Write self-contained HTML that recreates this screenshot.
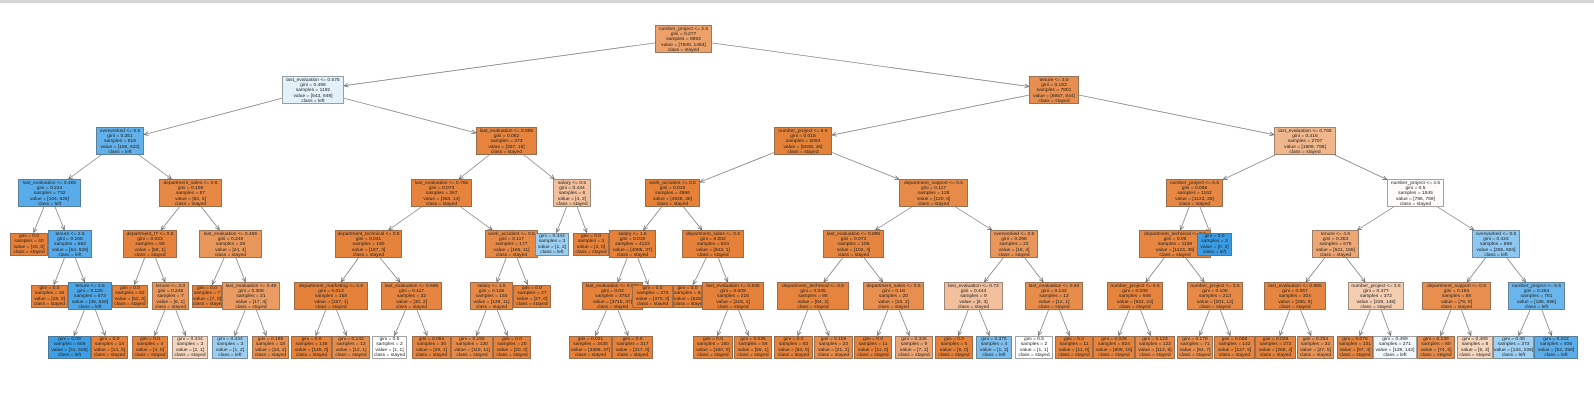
<!DOCTYPE html>
<html><head><meta charset="utf-8">
<style>
html,body{margin:0;padding:0;background:#fff;}
body{width:1594px;height:403px;position:relative;overflow:hidden;font-family:"Liberation Sans",sans-serif;}
#top{position:absolute;left:0;top:0;width:1594px;height:3px;background:#d6d6d6;}
.n{position:absolute;box-sizing:border-box;border:1px solid rgba(90,90,90,0.55);font-size:4.9px;line-height:5.4px;text-align:center;color:#222;white-space:nowrap;overflow:hidden;padding-top:0.5px;}
svg{position:absolute;left:0;top:0;}
</style></head><body>
<div id="top"></div>
<svg id="s" width="1594" height="403"></svg>
<div id="c"></div>
<script>
var O="#e58139";
var N=[
["r",null,655,712,0,"#eca06a","number_project <= 2.5|gini = 0.277|samples = 8993|value = [7500, 1493]|class = stayed"],
["A","r",282,344,1,"#e3f1fb","last_evaluation <= 0.575|gini = 0.496|samples = 1192|value = [543, 649]|class = left"],
["B","r",1029,1079,1,"#e88f4f","tenure <= 3.5|gini = 0.193|samples = 7801|value = [6957, 844]|class = stayed"],
["A1","A",96,144,2,"#62b1ea","overworked <= 0.5|gini = 0.351|samples = 819|value = [186, 633]|class = left"],
["A2","A",476,537,2,"#e6843e","last_evaluation <= 0.995|gini = 0.082|samples = 373|value = [357, 16]|class = stayed"],
["B1","B",774,832,2,"#e5823a","number_project <= 5.5|gini = 0.018|samples = 5094|value = [5048, 46]|class = stayed"],
["B2","B",1274,1336,2,"#f0b68c","last_evaluation <= 0.765|gini = 0.416|samples = 2707|value = [1909, 798]|class = stayed"],
["A1a","A1",18,81,3,"#57ace9","last_evaluation <= 0.465|gini = 0.244|samples = 732|value = [104, 628]|class = left"],
["A1b","A1",159,222,3,"#e78945","department_sales <= 0.5|gini = 0.108|samples = 87|value = [82, 5]|class = stayed"],
["A2a","A2",411,472,3,"#e6843d","last_evaluation <= 0.755|gini = 0.073|samples = 367|value = [353, 14]|class = stayed"],
["A2b","A2",553,591,3,"#f2c09c","salary <= 0.5|gini = 0.444|samples = 6|value = [4, 2]|class = stayed"],
["B1a","B1",645,700,3,O,"work_accident <= 0.5|gini = 0.015|samples = 4966|value = [4928, 38]|class = stayed"],
["B1b","B1",899,968,3,"#e78b48","department_support <= 0.5|gini = 0.117|samples = 128|value = [120, 8]|class = stayed"],
["B2a","B2",1166,1223,3,"#e68743","number_project <= 6.5|gini = 0.065|samples = 1162|value = [1123, 39]|class = stayed"],
["B2b","B2",1387,1444,3,"#fefcfa","number_project <= 4.5|gini = 0.5|samples = 1545|value = [786, 759]|class = stayed"],
["l1","A1a",10,48,4,O,"gini = 0.0|samples = 40|value = [40, 0]|class = stayed"],
["A1aR","A1a",48,92,4,"#55abe9","tenure <= 2.5|gini = 0.168|samples = 692|value = [64, 628]|class = left"],
["A1bL","A1b",123,177,4,"#e5833c","department_IT <= 0.5|gini = 0.033|samples = 59|value = [58, 1]|class = stayed"],
["A1bR","A1b",199,262,4,"#e9965a","last_evaluation <= 0.465|gini = 0.245|samples = 28|value = [24, 4]|class = stayed"],
["A2aL","A2a",335,402,4,"#e5833c","department_technical <= 0.5|gini = 0.031|samples = 190|value = [187, 3]|class = stayed"],
["A2aR","A2a",485,538,4,"#e78946","work_accident <= 0.5|gini = 0.117|samples = 177|value = [166, 11]|class = stayed"],
["l2","A2b",535,569,4,"#9ccef2","gini = 0.444|samples = 3|value = [1, 2]|class = left"],
["l3","A2b",573,609,4,O,"gini = 0.0|samples = 3|value = [3, 0]|class = stayed"],
["B1aL","B1a",609,656,4,O,"salary <= 1.5|gini = 0.018|samples = 4122|value = [4085, 37]|class = stayed"],
["B1aR","B1a",682,744,4,O,"department_sales <= 0.5|gini = 0.002|samples = 844|value = [843, 1]|class = stayed"],
["B1bL","B1b",823,884,4,"#e68540","last_evaluation <= 0.895|gini = 0.073|samples = 106|value = [102, 4]|class = stayed"],
["B1bR","B1b",990,1038,4,"#e9965a","overworked <= 0.5|gini = 0.298|samples = 22|value = [18, 4]|class = stayed"],
["B2aL","B2a",1139,1211,4,"#e68641","department_technical <= 0.5|gini = 0.06|samples = 1159|value = [1123, 36]|class = stayed"],
["l4","B2a",1197,1232,4,"#399de5","gini = 0.0|samples = 3|value = [0, 3]|class = left"],
["B2bL","B2b",1312,1359,4,"#eda774","tenure <= 4.5|gini = 0.353|samples = 676|value = [521, 155]|class = stayed"],
["B2bR","B2b",1472,1520,4,"#8ec7f0","overworked <= 0.5|gini = 0.424|samples = 869|value = [265, 604]|class = left"],
["l5","A1aR",31,68,5,O,"gini = 0.0|samples = 19|value = [19, 0]|class = stayed"],
["A1aRR","A1aR",68,112,5,"#4ca6e7","tenure <= 3.5|gini = 0.125|samples = 673|value = [45, 628]|class = left"],
["l6","A1bL",112,148,5,O,"gini = 0.0|samples = 52|value = [52, 0]|class = stayed"],
["A1bLR","A1bL",152,189,5,"#e9965a","tenure <= 3.0|gini = 0.245|samples = 7|value = [6, 1]|class = stayed"],
["l7","A1bR",192,222,5,O,"gini = 0.0|samples = 7|value = [7, 0]|class = stayed"],
["A1bRR","A1bR",222,280,5,"#ea9b62","last_evaluation <= 0.48|gini = 0.308|samples = 21|value = [17, 4]|class = stayed"],
["A2aLL","A2aL",294,368,5,"#e5823a","department_marketing <= 0.5|gini = 0.013|samples = 158|value = [157, 1]|class = stayed"],
["A2aLR","A2aL",381,442,5,"#e68540","last_evaluation <= 0.595|gini = 0.117|samples = 32|value = [30, 2]|class = stayed"],
["A2aRL","A2aR",470,513,5,"#e78945","salary <= 1.5|gini = 0.136|samples = 150|value = [139, 11]|class = stayed"],
["l8","A2aR",513,551,5,O,"gini = 0.0|samples = 27|value = [27, 0]|class = stayed"],
["B1aLL","B1aL",582,643,5,O,"last_evaluation <= 0.985|gini = 0.02|samples = 3752|value = [3715, 37]|class = stayed"],
["l9","B1aL",632,673,5,O,"gini = 0.0|samples = 370|value = [370, 0]|class = stayed"],
["l10","B1aR",673,702,5,O,"gini = 0.0|samples = 628|value = [628, 0]|class = stayed"],
["B1aRR","B1aR",702,764,5,O,"last_evaluation <= 0.845|gini = 0.009|samples = 216|value = [215, 1]|class = stayed"],
["B1bLL","B1bL",777,849,5,"#e6843d","department_technical <= 0.5|gini = 0.045|samples = 86|value = [84, 2]|class = stayed"],
["B1bLR","B1bL",863,924,5,"#e88f4f","department_sales <= 0.5|gini = 0.18|samples = 20|value = [18, 2]|class = stayed"],
["B1bRL","B1bR",944,1003,5,"#f2c09c","last_evaluation <= 0.73|gini = 0.444|samples = 9|value = [6, 3]|class = stayed"],
["B1bRR","B1bR",1025,1083,5,"#e78c4b","last_evaluation <= 0.64|gini = 0.142|samples = 13|value = [12, 1]|class = stayed"],
["B2aLL","B2aL",1107,1163,5,"#e6843e","number_project <= 5.5|gini = 0.049|samples = 946|value = [922, 24]|class = stayed"],
["B2aLR","B2aL",1187,1243,5,"#e78946","number_project <= 3.5|gini = 0.106|samples = 213|value = [201, 12]|class = stayed"],
["B2bLL","B2bL",1264,1326,5,"#e6853f","last_evaluation <= 0.965|gini = 0.057|samples = 304|value = [295, 9]|class = stayed"],
["B2bLR","B2bL",1348,1404,5,"#f5cdb0","number_project <= 3.5|gini = 0.477|samples = 372|value = [226, 146]|class = stayed"],
["B2bRL","B2bR",1422,1491,5,"#e88f4f","department_support <= 0.5|gini = 0.184|samples = 88|value = [79, 9]|class = stayed"],
["B2bRR","B2bR",1508,1565,5,"#6ab5eb","number_project <= 5.5|gini = 0.363|samples = 781|value = [186, 595]|class = left"],
["x","A1aRR",48,91,6,"#3c9ee5","gini = 0.09|samples = 659|value = [31, 628]|class = left"],
["x","A1aRR",91,128,6,O,"gini = 0.0|samples = 14|value = [14, 0]|class = stayed"],
["x","A1bLR",132,168,6,O,"gini = 0.0|samples = 4|value = [4, 0]|class = stayed"],
["x","A1bLR",172,208,6,"#f6d5bd","gini = 0.444|samples = 3|value = [2, 1]|class = stayed"],
["x","A1bRR",212,248,6,"#9ccef2","gini = 0.444|samples = 3|value = [1, 2]|class = left"],
["x","A1bRR",252,289,6,"#e88e4e","gini = 0.198|samples = 18|value = [16, 2]|class = stayed"],
["x","A2aLL",291,332,6,O,"gini = 0.0|samples = 145|value = [145, 0]|class = stayed"],
["x","A2aLL",332,370,6,"#e78c4a","gini = 0.142|samples = 13|value = [12, 1]|class = stayed"],
["x","A2aLR",372,407,6,"#ffffff","gini = 0.5|samples = 2|value = [1, 1]|class = stayed"],
["x","A2aLR",412,451,6,"#e6843d","gini = 0.064|samples = 30|value = [29, 1]|class = stayed"],
["x","A2aRL",451,493,6,"#e78a47","gini = 0.155|samples = 130|value = [119, 11]|class = stayed"],
["x","A2aRL",493,531,6,O,"gini = 0.0|samples = 20|value = [20, 0]|class = stayed"],
["x","B1aLL",569,612,6,O,"gini = 0.021|samples = 3435|value = [3398, 37]|class = stayed"],
["x","B1aLL",612,653,6,O,"gini = 0.0|samples = 317|value = [317, 0]|class = stayed"],
["x","B1aRR",693,733,6,O,"gini = 0.0|samples = 160|value = [160, 0]|class = stayed"],
["x","B1aRR",734,772,6,"#e6843d","gini = 0.035|samples = 56|value = [55, 1]|class = stayed"],
["x","B1bLL",774,813,6,O,"gini = 0.0|samples = 63|value = [63, 0]|class = stayed"],
["x","B1bLL",814,853,6,"#e78c4a","gini = 0.159|samples = 23|value = [21, 2]|class = stayed"],
["x","B1bLR",854,892,6,O,"gini = 0.0|samples = 11|value = [11, 0]|class = stayed"],
["x","B1bLR",895,933,6,"#eca572","gini = 0.346|samples = 9|value = [7, 2]|class = stayed"],
["x","B1bRL",935,973,6,O,"gini = 0.0|samples = 5|value = [5, 0]|class = stayed"],
["x","B1bRL",976,1012,6,"#7bbeee","gini = 0.375|samples = 4|value = [1, 3]|class = left"],
["x","B1bRR",1015,1053,6,"#ffffff","gini = 0.5|samples = 2|value = [1, 1]|class = stayed"],
["x","B1bRR",1055,1093,6,O,"gini = 0.0|samples = 11|value = [11, 0]|class = stayed"],
["x","B2aLL",1093,1135,6,"#e6843d","gini = 0.038|samples = 824|value = [808, 16]|class = stayed"],
["x","B2aLL",1135,1175,6,"#e78a47","gini = 0.123|samples = 122|value = [114, 8]|class = stayed"],
["x","B2aLR",1177,1213,6,"#e88e4d","gini = 0.178|samples = 71|value = [64, 7]|class = stayed"],
["x","B2aLR",1214,1255,6,"#e6853f","gini = 0.068|samples = 142|value = [137, 5]|class = stayed"],
["x","B2bLL",1255,1296,6,"#e5833c","gini = 0.029|samples = 272|value = [268, 4]|class = stayed"],
["x","B2bLL",1297,1334,6,"#e99457","gini = 0.264|samples = 32|value = [27, 5]|class = stayed"],
["x","B2bLR",1337,1373,6,"#e6853f","gini = 0.076|samples = 101|value = [97, 4]|class = stayed"],
["x","B2bLR",1373,1417,6,"#f0f7fd","gini = 0.499|samples = 271|value = [129, 142]|class = left"],
["x","B2bRL",1417,1455,6,"#e78c4a","gini = 0.139|samples = 80|value = [74, 6]|class = stayed"],
["x","B2bRL",1457,1493,6,"#f6d5bd","gini = 0.469|samples = 8|value = [5, 3]|class = stayed"],
["x","B2bRR",1493,1534,6,"#a0d0f2","gini = 0.46|samples = 373|value = [134, 239]|class = left"],
["x","B2bRR",1534,1578,6,"#5aade9","gini = 0.222|samples = 408|value = [52, 356]|class = left"]
];
var LT=[25,76,127,179,230,282,333];
var box={},html="",svg='<defs><marker id="a" markerWidth="5" markerHeight="5" refX="4.5" refY="2.5" orient="auto" markerUnits="userSpaceOnUse"><path d="M0,0.5 L4.5,2.5 L0,4.5" fill="none" stroke="#666" stroke-width="0.7"/></marker></defs>';
N.forEach(function(n){
 var lines=n[6].split("|"),leaf=lines.length==4;
 var h=leaf?23:28,t=LT[n[4]]+(leaf?2.5:0);
 var b={x1:n[2],x2:n[3],y1:t,y2:t+h};
 if(n[0]!="x")box[n[0]]=b;
 n.b=b;
 html+='<div class="n" style="left:'+n[2]+'px;top:'+t+'px;width:'+(n[3]-n[2])+'px;height:'+h+'px;background:'+n[5]+'">'+lines.join("<br>").replace(/</g,function(m){return m;})+'</div>';
});
N.forEach(function(n){
 if(!n[1])return;
 var p=box[n[1]],c=n.b;
 var pcx=(p.x1+p.x2)/2,pcy=(p.y1+p.y2)/2,ccx=(c.x1+c.x2)/2,ccy=(c.y1+c.y2)/2;
 var dx=ccx-pcx,dy=ccy-pcy;
 function clip(b,sx,sy,ddx,ddy){var hw=(b.x2-b.x1)/2,hh=(b.y2-b.y1)/2;var t=Math.min(Math.abs(hw/ddx)||1e9,Math.abs(hh/ddy)||1e9);return [sx+ddx*t,sy+ddy*t];}
 var s=clip(p,pcx,pcy,dx,dy),e=clip(c,ccx,ccy,-dx,-dy);
 svg+='<line x1="'+s[0]+'" y1="'+s[1]+'" x2="'+e[0]+'" y2="'+e[1]+'" stroke="#777" stroke-width="0.7" marker-end="url(#a)"/>';
});
document.getElementById("s").innerHTML=svg;
document.getElementById("c").innerHTML=html.replace(/<= /g,"&lt;= ");
</script>
</body></html>
